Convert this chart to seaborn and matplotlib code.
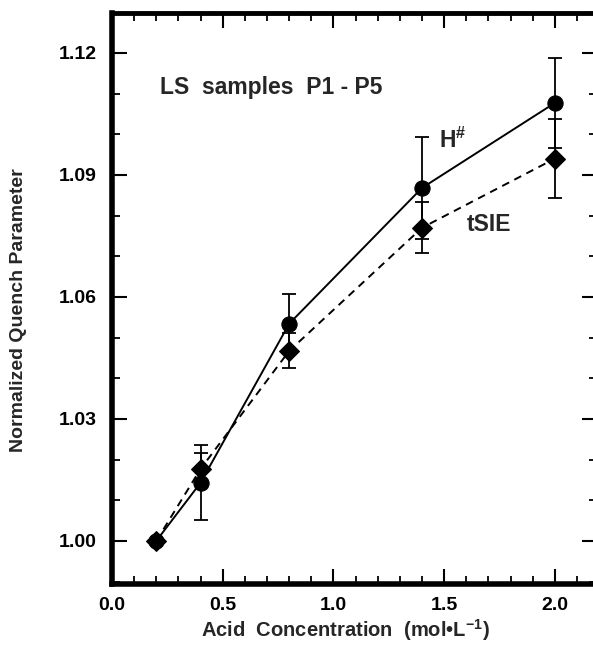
import matplotlib
matplotlib.use("Agg")
import matplotlib.pyplot as plt
import seaborn as sns
import pandas as pd
from matplotlib.ticker import FixedLocator, FormatStrFormatter

# Data
conc = [0.2, 0.4, 0.8, 1.4, 2.0]
h_vals = [1.000, 1.0143, 1.0534, 1.0868, 1.1077]
h_err = [0.0, 0.0092, 0.0073, 0.0125, 0.011]
t_vals = [1.000, 1.0177, 1.0467, 1.0770, 1.0940]
t_err = [0.0, 0.0040, 0.0043, 0.0063, 0.0098]
x_major = [0.0, 0.5, 1.0, 1.5, 2.0]
x_minor = [0.1, 0.2, 0.3, 0.4, 0.6, 0.7, 0.8, 0.9, 1.1, 1.2, 1.3, 1.4, 1.6, 1.7, 1.8, 1.9, 2.1]
y_major = [1.00, 1.03, 1.06, 1.09, 1.12]
y_minor = [0.99, 1.01, 1.02, 1.04, 1.05, 1.07, 1.08, 1.10, 1.11]

sns.set_theme(style="ticks")
plt.rcParams['font.family'] = ['Liberation Sans', 'DejaVu Sans']
plt.rcParams['font.weight'] = 'bold'
plt.rcParams['mathtext.fontset'] = 'custom'
plt.rcParams['mathtext.rm'] = 'Liberation Sans:bold'
plt.rcParams['mathtext.bf'] = 'Liberation Sans:bold'

fig = plt.figure(figsize=(5.93, 6.45), dpi=100)
ax = fig.add_axes([112/593, 61/645, (597-112)/593, (584-13)/645])

df_h = pd.DataFrame({"x": conc, "y": h_vals})
df_t = pd.DataFrame({"x": conc, "y": t_vals})

ax.errorbar(conc, h_vals, yerr=h_err, fmt='none', ecolor='black', elinewidth=1.3, capsize=5, capthick=1.3, zorder=2)
ax.errorbar(conc, t_vals, yerr=t_err, fmt='none', ecolor='black', elinewidth=1.3, capsize=5, capthick=1.3, zorder=2)

sns.lineplot(data=df_h, x="x", y="y", ax=ax, color='black', linewidth=1.4, linestyle='-',
             marker='o', markersize=11, markeredgecolor='black', markerfacecolor='black', zorder=3)
sns.lineplot(data=df_t, x="x", y="y", ax=ax, color='black', linewidth=1.4, linestyle=(0, (4, 3)),
             marker='D', markersize=10, markeredgecolor='black', markerfacecolor='black', zorder=4)

ax.set_xlim(0, 2.19)
ax.set_ylim(0.9894, 1.1298)
ax.xaxis.set_major_locator(FixedLocator(x_major))
ax.xaxis.set_minor_locator(FixedLocator(x_minor))
ax.yaxis.set_major_locator(FixedLocator(y_major))
ax.yaxis.set_minor_locator(FixedLocator(y_minor))
ax.xaxis.set_major_formatter(FormatStrFormatter('%.1f'))
ax.yaxis.set_major_formatter(FormatStrFormatter('%.2f'))

ax.tick_params(which='major', direction='in', length=11, width=1.5, top=True, right=True,
               labelsize=14, color='black', labelcolor='black')
ax.tick_params(axis='x', which='major', pad=9)
ax.tick_params(axis='y', which='major', pad=11)
ax.tick_params(which='minor', direction='in', length=6, width=1.3, top=True, right=True, color='black')

for side, lw in [('left', 4), ('bottom', 4), ('top', 3.5), ('right', 3)]:
    ax.spines[side].set_linewidth(lw)
    ax.spines[side].set_color('black')

ax.set_xlabel("Acid  Concentration  (mol\u2022L$^{\\mathregular{-1}}$)", fontsize=14.5, fontweight='bold')
ax.set_ylabel("Normalized Quench Parameter", fontsize=14, fontweight='bold')
ax.xaxis.label.set_va('center')
ax.yaxis.label.set_va('center')
ax.xaxis.set_label_coords((345-112)/485, (584-630)/571)
ax.yaxis.set_label_coords((18-112)/485, (584-310)/571)

ax.text(0.218, 1.1114, "LS  samples  P1 - P5", fontsize=16.5, fontweight='bold', va='center', ha='left')
ax.text(1.478, 1.0985, "H$^{\\#}$", fontsize=16.5, fontweight='bold', va='center', ha='left')
ax.text(1.60, 1.0777, "tSIE", fontsize=16.5, fontweight='bold', va='center', ha='left')

fig.savefig("out.png", dpi=100)
